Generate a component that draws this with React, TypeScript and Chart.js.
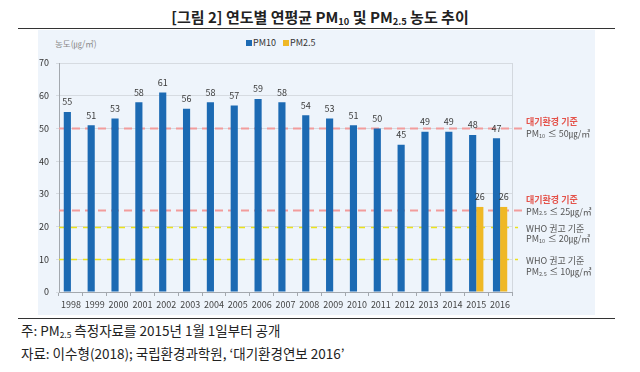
import React, { useEffect, useRef } from 'react';
import { Chart, registerables } from 'chart.js';

Chart.register(...registerables);

// ---------- data ----------
const years = ['1998', '1999', '2000', '2001', '2002', '2003', '2004', '2005', '2006', '2007', '2008', '2009', '2010', '2011', '2012', '2013', '2014', '2015', '2016'];
const pm10Values = [55, 51, 53, 58, 61, 56, 58, 57, 59, 58, 54, 53, 51, 50, 45, 49, 49, 48, 47];
const pm25Values: (number | null)[] = [null, null, null, null, null, null, null, null, null, null, null, null, null, null, null, null, null, 26, 26];
const yMin = 0;
const yMax = 70;
const yStep = 10;
const standardValues = [50, 25, 20, 10];
const standardTitles = ['대기환경 기준', '대기환경 기준', 'WHO 권고 기준', 'WHO 권고 기준'];
const standardPollutants = ['10', '2.5', '10', '2.5'];
const standardKinds = ['national', 'national', 'who', 'who'];

// ---------- style ----------
const FONT = '"Noto Sans CJK KR", "Noto Sans", sans-serif';
const BLUE = '#1c6ab3';
const YELLOW = '#efb826';
const PANEL_BG = '#eef4fb';
const labelOffsets = [[-7, 5], [-11, 1], [2, 12], [1.5, 12.5]];

function drawPM(ctx: CanvasRenderingContext2D, x: number, y: number, sub: string, rest: string, size: number) {
  ctx.font = `${size}px ${FONT}`;
  ctx.fillText('PM', x, y);
  x += ctx.measureText('PM').width;
  ctx.font = `${size * 0.62}px ${FONT}`;
  ctx.fillText(sub, x, y + 2);
  x += ctx.measureText(sub).width + 0.5;
  ctx.font = `${size}px ${FONT}`;
  ctx.fillText(rest, x, y);
}

const overlay = {
  id: 'overlay',
  beforeDatasetsDraw(chart: any) {
    const { ctx, chartArea, scales } = chart;
    const y = scales.y;
    ctx.save();
    standardValues.forEach((v, i) => {
      const who = standardKinds[i] === 'who';
      const py = Math.round(y.getPixelForValue(v)) + 0.5;
      ctx.strokeStyle = who ? '#ece21c' : '#f29c9c';
      ctx.lineWidth = who ? 1.5 : 2;
      ctx.setLineDash(who ? [6, 6] : [8, 5]);
      ctx.beginPath();
      ctx.moveTo(chartArea.left, py);
      ctx.lineTo(chartArea.right + (who ? 6 : 13), py);
      ctx.stroke();
    });
    ctx.restore();
  },
  afterDatasetsDraw(chart: any) {
    const { ctx, chartArea, scales } = chart;
    const y = scales.y;
    ctx.save();
    // right border of plot
    ctx.strokeStyle = '#d3d8de';
    ctx.lineWidth = 1;
    ctx.beginPath();
    ctx.moveTo(Math.round(chartArea.right) + 0.5, chartArea.top);
    ctx.lineTo(Math.round(chartArea.right) + 0.5, chartArea.bottom);
    ctx.stroke();

    // value labels
    ctx.fillStyle = '#3a3a3a';
    ctx.font = `9px ${FONT}`;
    ctx.textAlign = 'center';
    ctx.textBaseline = 'middle';
    chart.data.datasets.forEach((ds: any, di: number) => {
      const meta = chart.getDatasetMeta(di);
      meta.data.forEach((el: any, i: number) => {
        const v = ds.data[i];
        if (v === null || v === undefined) return;
        ctx.fillText(String(v), el.x, el.y - 10);
      });
    });

    // standard annotations
    ctx.textAlign = 'left';
    const x0 = chartArea.right + 14;
    standardValues.forEach((v, i) => {
      const who = standardKinds[i] === 'who';
      const py = y.getPixelForValue(v);
      const [d1, d2] = labelOffsets[i];
      ctx.fillStyle = who ? '#555555' : '#e4534b';
      ctx.font = `${who ? '' : 'bold '}9px ${FONT}`;
      ctx.fillText(standardTitles[i], x0, py + d1);
      ctx.fillStyle = '#555555';
      drawPM(ctx, x0, py + d2, standardPollutants[i], ` ≤ ${v}㎍/㎥`, 9);
    });
    ctx.restore();
  },
};

export default function App() {
  const canvasRef = useRef<HTMLCanvasElement | null>(null);

  useEffect(() => {
    const canvas = canvasRef.current;
    if (!canvas) return;
    const chart = new Chart(canvas, {
      type: 'bar',
      data: {
        labels: years,
        datasets: [
          { label: 'PM10', data: pm10Values, backgroundColor: BLUE, borderWidth: 0 },
          { label: 'PM2.5', data: pm25Values, backgroundColor: YELLOW, borderWidth: 0 },
        ],
      },
      options: {
        responsive: false,
        devicePixelRatio: 1,
        animation: false,
        events: [],
        layout: { padding: { top: 33, right: 83, left: 0, bottom: 0 } },
        datasets: { bar: { categoryPercentage: 0.6, barPercentage: 1.0 } },
        plugins: { legend: { display: false }, tooltip: { enabled: false }, title: { display: false } },
        scales: {
          x: {
            afterFit: (s: any) => { s.height = 23; },
            grid: { display: true, drawOnChartArea: false, offset: true, tickLength: 4, color: '#a3a8ae' },
            border: { color: '#a3a8ae' },
            ticks: { font: { family: FONT, size: 9 }, color: '#444444', padding: 3, maxRotation: 0, autoSkip: false },
          },
          y: {
            min: yMin,
            max: yMax,
            afterFit: (s: any) => { s.width = 21; },
            grid: { color: '#d6dbe1', tickLength: 3, drawTicks: true },
            border: { color: '#a3a8ae' },
            ticks: { stepSize: yStep, font: { family: FONT, size: 9 }, color: '#333333', padding: 7 },
          },
        },
      },
      plugins: [overlay],
    });
    return () => chart.destroy();
  }, []);

  const sub = (t: string) => (
    <span style={{ fontSize: '0.62em', position: 'relative', top: '0.25em' }}>{t}</span>
  );

  return (
    <div style={{ position: 'fixed', left: 0, top: 0, width: 640, height: 372, background: '#fff', overflow: 'hidden', fontFamily: FONT }}>
      <div style={{ position: 'absolute', left: 0, width: 640, top: 6, textAlign: 'center', fontSize: 15, fontWeight: 'bold', color: '#222', lineHeight: '21px' }}>
        [그림 2] 연도별 연평균 PM{sub('10')} 및 PM{sub('2.5')} 농도 추이
      </div>
      <div style={{ position: 'absolute', left: 18, width: 597, top: 28, height: 0, borderTop: '1.5px solid #333' }} />
      <div style={{ position: 'absolute', left: 38, top: 30, width: 557, height: 285, background: PANEL_BG }} />
      <div style={{ position: 'absolute', left: 55, top: 36, fontSize: 8.5, color: '#888', lineHeight: '14px' }}>농도(㎍/㎥)</div>
      <div style={{ position: 'absolute', left: 246, top: 36, fontSize: 9, color: '#333', lineHeight: '14px', display: 'flex', alignItems: 'center' }}>
        <span style={{ display: 'inline-block', width: 6, height: 6, background: BLUE, marginRight: 1 }} />
        <span>PM10</span>
        <span style={{ display: 'inline-block', width: 6, height: 6, background: YELLOW, marginLeft: 7, marginRight: 1 }} />
        <span>PM2.5</span>
      </div>
      <canvas ref={canvasRef} width={557} height={285} style={{ position: 'absolute', left: 38, top: 30, width: 557, height: 285 }} />
      <div style={{ position: 'absolute', left: 18, width: 597, top: 318, height: 0, borderTop: '1.5px solid #333' }} />
      <div style={{ position: 'absolute', left: 21, top: 321, fontSize: 13.5, color: '#222', lineHeight: '18px' }}>
        주: PM{sub('2.5')} 측정자료를 2015년 1월 1일부터 공개
      </div>
      <div style={{ position: 'absolute', left: 21, top: 344, fontSize: 13.5, color: '#222', lineHeight: '18px' }}>
        자료: 이수형(2018); 국립환경과학원, ‘대기환경연보 2016’
      </div>
    </div>
  );
}
